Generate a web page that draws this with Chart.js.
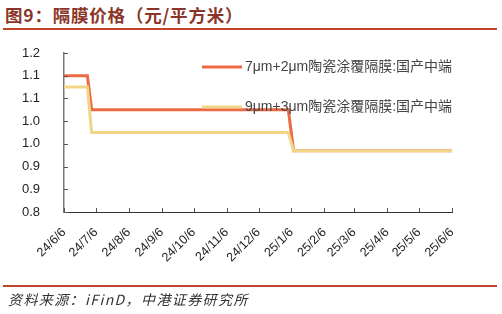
<!DOCTYPE html>
<html>
<head>
<meta charset="utf-8">
<script src="https://cdn.jsdelivr.net/npm/chart.js@4"></script>
<style>
  html, body { margin: 0; padding: 0; background: #fff; }
  #wrap { position: relative; width: 502px; height: 314px; overflow: hidden; }
  #titulo { position: absolute; left: 5px; top: 2px; font: bold 17.5px "Noto Sans CJK SC", sans-serif; color: #8b3427; letter-spacing: 0.8px; white-space: nowrap; }
  .raya { position: absolute; left: 3px; width: 494px; height: 2px; background: #c0442a; }
  #fuente { position: absolute; left: 8px; top: 289px; font: italic 14px "Noto Sans CJK SC", sans-serif; color: #333; letter-spacing: 1.4px; white-space: nowrap; }
  canvas { position: absolute; left: 0; top: 0; }
</style>
</head>
<body>
<div id="wrap">
  <div id="titulo">图9：隔膜价格（元/平方米）</div>
  <div class="raya" style="top:28px"></div>
  <canvas id="chartPrecio" width="502" height="314"></canvas>
  <div class="raya" style="top:285px"></div>
  <div id="fuente">资料来源：iFinD，中港证券研究所</div>
</div>
<script>
// series
const etiquetas = ['7μm+2μm陶瓷涂覆隔膜:国产中端', '9μm+3μm陶瓷涂覆隔膜:国产中端'];
const fechas = ['2024-06-06', '2024-06-28', '2024-07-02', '2025-01-03', '2025-01-08', '2025-06-06'];
const precio7 = [1.15, 1.15, 1.075, 1.075, 0.985, 0.985];
const precio9 = [1.125, 1.125, 1.025, 1.025, 0.985, 0.985];

// axis ticks
const fechasEje = ['2024-06-06', '2024-07-06', '2024-08-06', '2024-09-06', '2024-10-06', '2024-11-06', '2024-12-06',
                   '2025-01-06', '2025-02-06', '2025-03-06', '2025-04-06', '2025-05-06', '2025-06-06'];
const etiquetasX = ['24/6/6', '24/7/6', '24/8/6', '24/9/6', '24/10/6', '24/11/6', '24/12/6',
                    '25/1/6', '25/2/6', '25/3/6', '25/4/6', '25/5/6', '25/6/6'];
const valoresY = [0.85, 0.9, 0.95, 1.0, 1.05, 1.1, 1.15, 1.2];
const etiquetasY = ['0.8', '0.9', '0.9', '1.0', '1.0', '1.1', '1.1', '1.2'];

const colores = ['#ec6a43', '#f3d58a'];

const dia = s => Date.parse(s + 'T00:00:00Z');
const ticksX = fechasEje.map(dia);

// legend inside the plot + inward tick marks
const extras = {
    id: 'extras',
    afterDraw(chart) {
        const ctx = chart.ctx;
        const x = chart.scales.x, y = chart.scales.y;
        ctx.save();
        ctx.strokeStyle = '#555';
        ctx.lineWidth = 1;
        ctx.beginPath();
        valoresY.forEach(v => {
            const py = Math.round(y.getPixelForValue(v)) + 0.5;
            ctx.moveTo(x.left, py); ctx.lineTo(x.left + 4, py);
        });
        ticksX.forEach(t => {
            const px = Math.round(x.getPixelForValue(t)) + 0.5;
            ctx.moveTo(px, y.bottom); ctx.lineTo(px, y.bottom - 4);
        });
        ctx.stroke();

        chart.data.datasets.forEach((ds, i) => {
            const ly = 67 + i * 40;
            ctx.strokeStyle = ds.borderColor;
            ctx.lineWidth = 3;
            ctx.beginPath();
            ctx.moveTo(202, ly); ctx.lineTo(242, ly);
            ctx.stroke();
            ctx.fillStyle = '#444';
            ctx.font = '14px "Liberation Sans", "Noto Sans CJK SC", sans-serif';
            ctx.textBaseline = 'middle';
            ctx.fillText(ds.label, 245, ly);
        });
        ctx.restore();
    }
};

const grafico = new Chart(document.getElementById('chartPrecio'), {
    type: 'line',
    data: {
        datasets: [
            { label: etiquetas[0], data: fechas.map((f, i) => ({ x: dia(f), y: precio7[i] })),
              borderColor: colores[0], borderWidth: 3, pointRadius: 0, order: 2 },
            { label: etiquetas[1], data: fechas.map((f, i) => ({ x: dia(f), y: precio9[i] })),
              borderColor: colores[1], borderWidth: 3, pointRadius: 0, order: 1 }
        ]
    },
    options: {
        responsive: false,
        animation: false,
        layout: { padding: { top: 53, right: 50, left: 0, bottom: 0 } },
        plugins: { legend: { display: false }, tooltip: { enabled: false } },
        scales: {
            x: {
                type: 'linear',
                min: dia(fechasEje[0]),
                max: dia(fechasEje[fechasEje.length - 1]),
                afterBuildTicks: s => { s.ticks = ticksX.map(v => ({ value: v })); },
                afterFit: s => { s.height = 102; },
                grid: { display: false },
                border: { display: true, color: '#333', width: 1 },
                ticks: {
                    autoSkip: false, minRotation: 45, maxRotation: 45, padding: 5,
                    color: '#222', font: { family: 'Liberation Sans', size: 12.5 },
                    callback: (v, i) => etiquetasX[i]
                }
            },
            y: {
                min: 0.85,
                max: 1.2,
                afterBuildTicks: s => { s.ticks = valoresY.map(v => ({ value: v })); },
                afterFit: s => { s.width = 64; },
                grid: { display: false },
                border: { display: true, color: '#7a7a7a', width: 1.5 },
                ticks: {
                    padding: 16, color: '#222', font: { family: 'Liberation Sans', size: 13 },
                    callback: (v, i) => etiquetasY[i]
                }
            }
        }
    },
    plugins: [extras]
});
</script>
</body>
</html>
